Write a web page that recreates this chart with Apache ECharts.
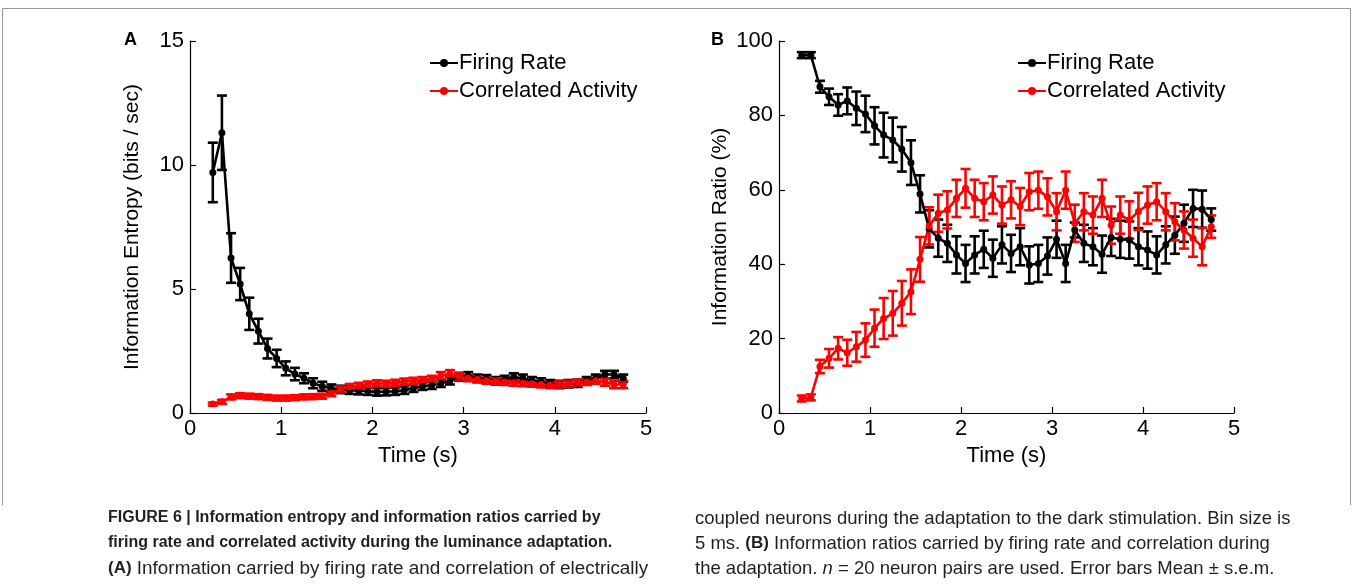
<!DOCTYPE html>
<html>
<head>
<meta charset="utf-8">
<script src="https://cdn.jsdelivr.net/npm/echarts@6/dist/echarts.min.js"></script>
<style>
html,body{margin:0;padding:0;background:#fff;}
#c{width:1355px;height:587px;}
</style>
</head>
<body>
<div id="c"></div>
<script>
// ---- data ----
const time = [0.25,0.35,0.45,0.55,0.65,0.75,0.85,0.95,1.05,1.15,1.25,1.35,1.45,1.55,1.65,1.75,1.85,1.95,2.05,2.15,2.25,2.35,2.45,2.55,2.65,2.75,2.85,2.95,3.05,3.15,3.25,3.35,3.45,3.55,3.65,3.75,3.85,3.95,4.05,4.15,4.25,4.35,4.45,4.55,4.65,4.75];

// Panel A: information entropy (bits / sec)
const entropyRate = [9.7,11.3,6.25,5.2,4.0,3.3,2.6,2.2,1.8,1.57,1.4,1.2,1.08,1.0,0.95,0.92,0.9,0.88,0.85,0.86,0.88,0.92,1.0,1.08,1.12,1.2,1.3,1.45,1.5,1.4,1.38,1.3,1.35,1.45,1.4,1.3,1.25,1.18,1.15,1.18,1.2,1.3,1.4,1.55,1.55,1.4];
const entropyRateErr = [1.2,1.5,1.0,0.65,0.65,0.5,0.4,0.35,0.28,0.25,0.2,0.2,0.18,0.15,0.15,0.15,0.15,0.15,0.15,0.15,0.15,0.15,0.15,0.15,0.15,0.15,0.15,0.15,0.15,0.15,0.15,0.15,0.15,0.15,0.15,0.15,0.15,0.15,0.15,0.15,0.15,0.15,0.15,0.15,0.15,0.15];
const entropyCorr = [0.36,0.45,0.65,0.7,0.68,0.66,0.63,0.6,0.6,0.62,0.65,0.66,0.68,0.8,0.95,1.05,1.1,1.15,1.2,1.18,1.22,1.27,1.3,1.33,1.38,1.5,1.58,1.48,1.4,1.35,1.3,1.28,1.25,1.22,1.2,1.18,1.15,1.12,1.15,1.18,1.22,1.25,1.3,1.25,1.15,1.15];
const entropyCorrErr = [0.06,0.08,0.1,0.1,0.1,0.1,0.1,0.1,0.1,0.1,0.1,0.1,0.1,0.12,0.12,0.12,0.12,0.12,0.12,0.12,0.12,0.12,0.12,0.12,0.12,0.15,0.15,0.15,0.12,0.12,0.12,0.12,0.12,0.12,0.12,0.12,0.12,0.12,0.12,0.12,0.12,0.12,0.12,0.15,0.15,0.15];

// Panel B: information ratio (%)
const ratioRate = [96.2,96.2,87.7,85.0,82.8,83.9,81.9,80.4,77.2,74.7,73.4,70.9,67.3,58.9,49.5,47.0,45.6,42.5,40.2,42.5,44.0,41.6,45.2,42.9,44.7,39.8,40.2,42.2,46.7,40.2,49.2,45.6,44.7,42.7,47.2,46.7,46.5,44.7,43.8,42.5,45.2,47.8,51.0,55.0,54.8,52.0];
const ratioRateErr = [0.8,0.8,1.6,2.2,2.9,3.6,4.5,4.9,5.0,6.0,6.0,6.0,6.0,5.0,5.0,5.0,5.0,5.0,5.0,5.0,5.0,5.0,5.0,5.0,5.0,5.0,5.0,5.0,5.0,5.0,2.0,5.0,5.0,5.0,5.0,5.0,5.0,5.0,5.0,5.0,5.0,5.0,5.0,5.0,5.0,3.0];
const ratioCorr = [3.9,4.2,12.5,14.7,17.4,16.2,17.8,19.6,22.8,25.4,26.8,29.5,32.6,41.3,50.3,53.7,54.6,57.7,60.4,57.7,56.8,58.6,55.9,57.3,55.5,59.5,59.9,58.1,54.1,59.9,51.0,54.1,53.2,57.7,50.5,53.2,51.9,54.2,55.9,56.8,54.1,51.4,49.2,47.0,44.7,50.1];
const ratioCorrErr = [0.8,0.8,1.8,2.5,3.0,3.5,4.0,4.5,5.0,5.5,6.0,6.0,6.0,6.0,5.0,5.0,5.0,5.0,5.2,5.0,5.0,5.0,5.0,5.0,5.0,5.0,5.0,5.0,5.0,5.0,5.0,5.0,5.0,5.0,5.0,5.0,5.0,5.0,5.0,5.0,5.0,5.0,5.0,5.0,5.0,3.0];

const xTicks = [0,1,2,3,4,5];
const seriesNames = ['Firing Rate','Correlated Activity'];
const seriesColors = ['#000000','#ff0000'];

// ---- helpers ----
const FONT = 'Liberation Sans, Arial, sans-serif';
const CAP = '#231f20';
function pairs(ys){ return time.map((t,i)=>[t, ys[i]]); }
function triples(ys, es){ return time.map((t,i)=>[t, ys[i], es[i]]); }

function errorSeries(idx, ys, es, color){
  return {
    type:'custom', xAxisIndex:idx, yAxisIndex:idx, silent:true, z:3,
    data: triples(ys, es),
    encode:{x:0, y:[1]},
    renderItem(params, api){
      const x = api.value(0), y = api.value(1), e = api.value(2);
      const top = api.coord([x, y+e]);
      const bot = api.coord([x, y-e]);
      const w = 5;
      const st = {stroke:color, lineWidth:2.6};
      return {type:'group', children:[
        {type:'line', shape:{x1:top[0],y1:top[1],x2:bot[0],y2:bot[1]}, style:st},
        {type:'line', shape:{x1:top[0]-w,y1:top[1],x2:top[0]+w,y2:top[1]}, style:st},
        {type:'line', shape:{x1:bot[0]-w,y1:bot[1],x2:bot[0]+w,y2:bot[1]}, style:st}
      ]};
    }
  };
}
function lineSeries(idx, name, ys, color){
  return {
    type:'line', name:name, xAxisIndex:idx, yAxisIndex:idx, z:4,
    data: pairs(ys), symbol:'circle', symbolSize:7, showSymbol:true,
    lineStyle:{color:color, width:2.6}, itemStyle:{color:color},
    emphasis:{disabled:true}, animation:false
  };
}
function xAxis(idx){
  return {
    type:'value', gridIndex:idx, min:0, max:5, interval:1,
    name:'Time (s)', nameLocation:'middle', nameGap:27,
    nameTextStyle:{fontFamily:FONT, fontSize:22, color:'#000'},
    axisLine:{lineStyle:{color:'#000', width:1.2}},
    axisTick:{inside:true, length:6, lineStyle:{color:'#000', width:1.2}},
    axisLabel:{fontFamily:FONT, fontSize:22, color:'#000', margin:5,
      customValues: xTicks},
    splitLine:{show:false}
  };
}
function yAxis(idx, max, interval, name, gap){
  return {
    type:'value', gridIndex:idx, min:0, max:max, interval:interval,
    name:name, nameLocation:'middle', nameGap:gap,
    nameTextStyle:{fontFamily:FONT, fontSize:21, color:'#000'},
    axisLine:{show:true, lineStyle:{color:'#000', width:1.2}},
    axisTick:{show:true, inside:true, length:6, lineStyle:{color:'#000', width:1.2}},
    axisLabel:{fontFamily:FONT, fontSize:22, color:'#000', margin:6},
    splitLine:{show:false}
  };
}
function legend(left){
  return {
    left:left, top:47, orient:'vertical', itemGap:6, itemWidth:28, itemHeight:10,
    data: seriesNames, selectedMode:false,
    textStyle:{fontFamily:FONT, fontSize:22, color:'#000', padding:[0,0,0,-4]}
  };
}

const chart = echarts.init(document.getElementById('c'), null, {renderer:'canvas'});
chart.setOption({
  animation:false,
  backgroundColor:'#fff',
  grid:[
    {left:190, top:41, width:456, height:372},
    {left:779, top:41, width:455, height:372}
  ],
  xAxis:[xAxis(0), xAxis(1)],
  yAxis:[yAxis(0,15,5,'Information Entropy (bits / sec)',47), yAxis(1,100,20,'Information Ratio (%)',48)],
  legend:[legend(424), legend(1012)],
  series:[
    errorSeries(0, entropyRate, entropyRateErr, seriesColors[0]),
    lineSeries(0, seriesNames[0], entropyRate, seriesColors[0]),
    errorSeries(0, entropyCorr, entropyCorrErr, seriesColors[1]),
    lineSeries(0, seriesNames[1], entropyCorr, seriesColors[1]),
    errorSeries(1, ratioRate, ratioRateErr, seriesColors[0]),
    lineSeries(1, seriesNames[0], ratioRate, seriesColors[0]),
    errorSeries(1, ratioCorr, ratioCorrErr, seriesColors[1]),
    lineSeries(1, seriesNames[1], ratioCorr, seriesColors[1])
  ],
  graphic:[
    {type:'polyline', shape:{points:[[2.5,505],[2.5,8.5],[1350.5,8.5],[1350.5,505]]}, style:{fill:'none', stroke:'#999', lineWidth:1}, silent:true},
    {type:'text', left:124, top:31, style:{text:'A', font:'bold 18px '+FONT, fill:'#000'}},
    {type:'text', left:711, top:31, style:{text:'B', font:'bold 18px '+FONT, fill:'#000'}},
    {type:'text', left:108, top:510, style:{text:'FIGURE 6 | Information entropy and information ratios carried by', font:'bold 16px '+FONT, fill:CAP}},
    {type:'text', left:108, top:535, style:{text:'firing rate and correlated activity during the luminance adaptation.', font:'bold 16px '+FONT, fill:CAP}},
    {type:'text', left:108, top:559, style:{
      text:'{b|(A)} Information carried by firing rate and correlation of electrically',
      font:'18.9px '+FONT, fill:CAP,
      rich:{b:{font:'bold 17px '+FONT, fill:CAP}}}},
    {type:'text', left:695, top:509, style:{text:'coupled neurons during the adaptation to the dark stimulation. Bin size is', font:'18.5px '+FONT, fill:CAP}},
    {type:'text', left:695, top:534, style:{
      text:'5 ms. {b|(B)} Information ratios carried by firing rate and correlation during',
      font:'18.5px '+FONT, fill:CAP,
      rich:{b:{font:'bold 17px '+FONT, fill:CAP}}}},
    {type:'text', left:695, top:559, style:{
      text:'the adaptation. {i|n} = 20 neuron pairs are used. Error bars Mean ± s.e.m.',
      font:'18.5px '+FONT, fill:CAP,
      rich:{i:{font:'italic 18.5px '+FONT, fill:CAP}}}}
  ]
});
</script>
</body>
</html>
